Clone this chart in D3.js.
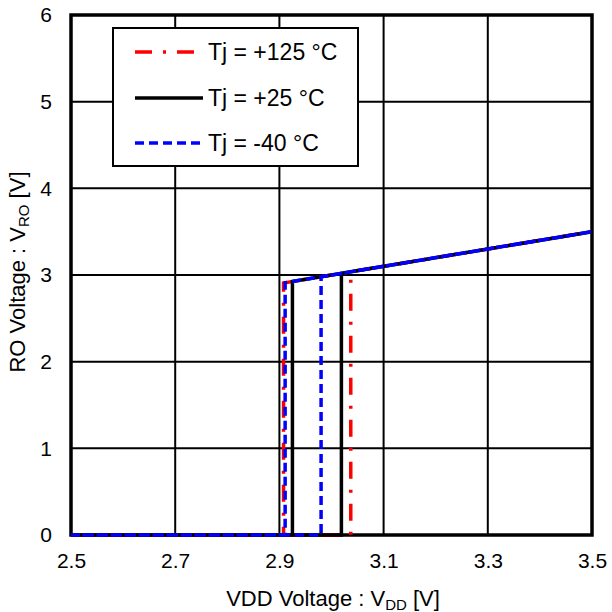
<!DOCTYPE html>
<html>
<head>
<meta charset="utf-8">
<script src="https://cdn.jsdelivr.net/npm/d3@7"></script>
<style>
  body { margin: 0; background: #fff; }
  text { font-family: "Liberation Sans", Arial, sans-serif; fill: #000; }
</style>
</head>
<body>
<script>
// axis ticks
var xTicks = [2.5, 2.7, 2.9, 3.1, 3.3, 3.5];
var yTicks = [0, 1, 2, 3, 4, 5, 6];

// series: VDD sweep up then back down (hysteresis)
var seriesNames = ["Tj = +125 °C", "Tj = +25 °C", "Tj = -40 °C"];
var hotVdd = [2.5, 3.037, 3.037, 3.5, 2.908, 2.908, 2.5];
var hotVro = [0, 0, 3.037, 3.5, 2.908, 0, 0];
var roomVdd = [2.5, 3.019, 3.019, 3.5, 2.925, 2.925, 2.5];
var roomVro = [0, 0, 3.019, 3.5, 2.925, 0, 0];
var coldVdd = [2.5, 2.98, 2.98, 3.5, 2.911, 2.911, 2.5];
var coldVro = [0, 0, 2.98, 3.5, 2.911, 0, 0];

var seriesColors = ["#ff0000", "#000000", "#0000ff"];
var seriesDash = ["17,11,3,11", null, "9,5"];

var W = 612, H = 612;
var pL = 71, pR = 592, pT = 15, pB = 535;

var svg = d3.select('body').append('svg')
    .attr('width', W)
    .attr('height', H);

var x = d3.scaleLinear().domain([2.5, 3.5]).range([pL, pR]);
var y = d3.scaleLinear().domain([0, 6]).range([pB, pT]);

// grid
var grid = svg.append('g');
xTicks.slice(1, -1).forEach(function (t) {
    grid.append('line')
        .attr('x1', x(t)).attr('x2', x(t))
        .attr('y1', pT).attr('y2', pB)
        .attr('stroke', '#000').attr('stroke-width', 2);
});
yTicks.slice(1, -1).forEach(function (t) {
    grid.append('line')
        .attr('x1', pL).attr('x2', pR)
        .attr('y1', y(t)).attr('y2', y(t))
        .attr('stroke', '#000').attr('stroke-width', 2);
});

// frame (under the series, as in the reference)
svg.append('rect')
    .attr('x', pL).attr('y', pT)
    .attr('width', pR - pL).attr('height', pB - pT)
    .attr('fill', 'none').attr('stroke', '#000').attr('stroke-width', 3.5);

// axes (labels only, no tick marks)
var xAxis = svg.append('g')
    .attr('transform', 'translate(0,' + pB + ')')
    .call(d3.axisBottom(x).tickValues(xTicks).tickSize(0).tickPadding(18).tickFormat(d3.format('.1f')));
var yAxis = svg.append('g')
    .attr('transform', 'translate(' + pL + ',0)')
    .call(d3.axisLeft(y).tickValues(yTicks).tickSize(0).tickPadding(19).tickFormat(d3.format('d')));
[xAxis, yAxis].forEach(function (a) {
    a.select('.domain').remove();
    a.selectAll('text').attr('font-size', 21).attr('font-family', '"Liberation Sans", Arial, sans-serif').attr('fill', '#000');
});

// series
var lineFn = d3.line()
    .x(function (d) { return x(d[0]); })
    .y(function (d) { return y(d[1]); });
var allSeries = [[hotVdd, hotVro], [roomVdd, roomVro], [coldVdd, coldVro]];
allSeries.forEach(function (s, i) {
    var pts = s[0].map(function (v, j) { return [v, s[1][j]]; });
    svg.append('path')
        .datum(pts)
        .attr('d', lineFn)
        .attr('fill', 'none')
        .attr('stroke', seriesColors[i])
        .attr('stroke-width', 3.5)
        .attr('stroke-dasharray', seriesDash[i]);
});

// legend
var lg = svg.append('g');
lg.append('rect')
    .attr('x', 113).attr('y', 28).attr('width', 245).attr('height', 138)
    .attr('fill', '#fff').attr('stroke', '#000').attr('stroke-width', 2);
var rowsY = [52, 98, 143];
seriesNames.forEach(function (name, i) {
    lg.append('line')
        .attr('x1', 135).attr('x2', 203)
        .attr('y1', rowsY[i]).attr('y2', rowsY[i])
        .attr('stroke', seriesColors[i])
        .attr('stroke-width', 3.5)
        .attr('stroke-dasharray', seriesDash[i]);
    lg.append('text')
        .attr('x', 208).attr('y', rowsY[i] + 8)
        .attr('font-size', 23)
        .text(name);
});

// axis titles
var xt = svg.append('text')
    .attr('x', 333).attr('y', 606)
    .attr('text-anchor', 'middle')
    .attr('font-size', 22);
xt.append('tspan').text('VDD Voltage : V');
xt.append('tspan').attr('font-size', 15).attr('dy', 4).text('DD');
xt.append('tspan').attr('dy', -4).text(' [V]');

var yt = svg.append('text')
    .attr('transform', 'translate(25,' + 272 + ') rotate(-90)')
    .attr('text-anchor', 'middle')
    .attr('font-size', 22);
yt.append('tspan').text('RO Voltage : V');
yt.append('tspan').attr('font-size', 15).attr('dy', 4).text('RO');
yt.append('tspan').attr('dy', -4).text(' [V]');
</script>
</body>
</html>
